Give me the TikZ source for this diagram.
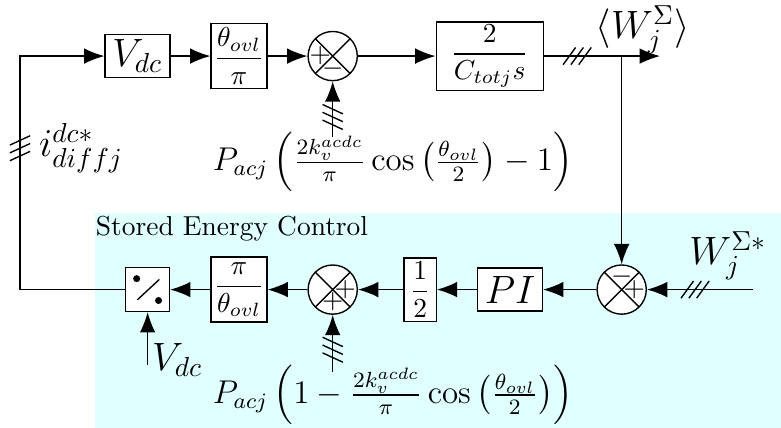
\documentclass[tikz,border=0pt]{standalone}
\usepackage{amsmath,amssymb}
\usetikzlibrary{arrows.meta}

\definecolor{sechl}{RGB}{224,255,255}
\tikzset{
  block/.style={draw, rectangle, inner sep=1pt, fill=white},
  sumc/.style={draw, circle, minimum size=0.63cm, inner sep=0pt, fill=white,
    path picture={\draw (path picture bounding box.north west) -- (path picture bounding box.south east)
                        (path picture bounding box.north east) -- (path picture bounding box.south west);}},
  sgn/.style={inner sep=0pt},
  arr/.style={-{Latex[length=2.6mm,width=2mm]}},
  every path/.style={line width=0.5pt}
}

\begin{document}
\begin{tikzpicture}
\useasboundingbox (0,0) rectangle (10,5.478);
% shaded part: the stored energy controller
\fill[sechl] (1.22,0) rectangle (10,2.75);
\node[anchor=north west, inner sep=0pt] (title) at (1.22,2.72) {Stored Energy Control};

% top row
\node[block, minimum width=0.83cm, minimum height=0.55cm] (vdc) at (1.76,4.76) {\Large $V_{dc}$};
\node[block, minimum width=0.69cm, minimum height=0.83cm] (tp) at (3.06,4.76) {$\dfrac{\theta_{ovl}}{\pi}$};
\node[sumc] (s1) at (4.26,4.76) {};
\node[block, minimum width=1.37cm, minimum height=0.83cm] (ct) at (6.27,4.76) {$\dfrac{2}{C_{totj}s}$};
\coordinate (br) at (7.96,4.76);
\coordinate (out) at (8.45,4.76);
\coordinate (p1) at (4.26,3.72);

% bottom row
\node[sumc] (s2) at (7.96,1.77) {};
\coordinate (win) at (9.64,1.77);
\node[block, minimum width=0.83cm, minimum height=0.55cm] (pi) at (6.53,1.77) {\Large $PI$};
\node[block, minimum width=0.41cm, minimum height=0.81cm] (half) at (5.38,1.77) {$\dfrac{1}{2}$};
\node[sumc] (s3) at (4.26,1.77) {};
\node[block, minimum width=0.69cm, minimum height=0.83cm] (pt) at (3.06,1.77) {$\dfrac{\pi}{\theta_{ovl}}$};
\node[block, minimum size=0.56cm,
  path picture={\fill[black] ([shift={(-0.14,0.14)}]path picture bounding box.center) circle (0.045);
                \fill[black] ([shift={(0.14,-0.14)}]path picture bounding box.center) circle (0.045);
                \draw ([shift={(-0.13,-0.13)}]path picture bounding box.center) -- ([shift={(0.15,0.13)}]path picture bounding box.center);}] (sw) at (1.89,1.77) {};
\coordinate (vin) at (1.89,0.81);
\coordinate (p3) at (4.26,0.72);
\coordinate (cl) at (0.256,1.77);
\coordinate (cu) at (0.256,4.76);

% signs in the summing points
\node[sgn] at ([xshift=-0.16cm]s1.center) {$+$};
\node[sgn] at ([yshift=-0.16cm]s1.center) {$-$};
\node[sgn] at ([yshift=0.16cm]s2.center) {$-$};
\node[sgn] at ([xshift=0.16cm]s2.center) {$+$};
\node[sgn] at ([xshift=0.16cm]s3.center) {$+$};
\node[sgn] at ([yshift=-0.16cm]s3.center) {$+$};

% connections
\draw[arr] (sw.west) -- (cl) -- (cu) -- (vdc.west);
\draw[arr] (vdc) -- (tp);
\draw[arr] (tp) -- (s1);
\draw[arr] (s1) -- (ct);
\draw[arr] (ct) -- (out);
\draw[arr] (br) -- (s2);
\draw[arr] (p1) -- (s1);
\draw[arr] (win) -- (s2);
\draw[arr] (s2) -- (pi);
\draw[arr] (pi) -- (half);
\draw[arr] (half) -- (s3);
\draw[arr] (s3) -- (pt);
\draw[arr] (pt) -- (sw);
\draw[arr] (vin) -- (sw);
\draw[arr] (p3) -- (s3);

% bus marks
\foreach \d in {-0.1,0,0.1} {
  \draw ([xshift=\d cm]7.39,4.76) ++(-0.08,-0.11) -- ++(0.16,0.22);
  \draw ([xshift=\d cm]8.90,1.77) ++(-0.08,-0.11) -- ++(0.16,0.22);
  \draw ([yshift=\d cm]0.256,3.58) ++(-0.13,-0.06) -- ++(0.26,0.12);
  \draw ([yshift=\d cm]4.26,3.98) ++(-0.13,0.06) -- ++(0.26,-0.12);
  \draw ([yshift=\d cm]4.26,1.0) ++(-0.13,0.06) -- ++(0.26,-0.12);
}

% labels
\node (lw) at (8.23,5.1) {\Large $\langle W_j^{\Sigma}\rangle$};
\node (lws) at (9.32,2.2) {\Large $W_j^{\Sigma *}$};
\node (li) at (1.04,3.58) {\Large $i_{diffj}^{dc*}$};
\node (lv) at (2.27,0.87) {\Large $V_{dc}$};
\node (lp1) at (5.03,3.4) {\large $P_{acj}\left(\frac{2k_v^{acdc}}{\pi}\cos\left(\frac{\theta_{ovl}}{2}\right)-1\right)$};
\node (lp3) at (5.03,0.42) {\large $P_{acj}\left(1-\frac{2k_v^{acdc}}{\pi}\cos\left(\frac{\theta_{ovl}}{2}\right)\right)$};
\end{tikzpicture}
\end{document}
